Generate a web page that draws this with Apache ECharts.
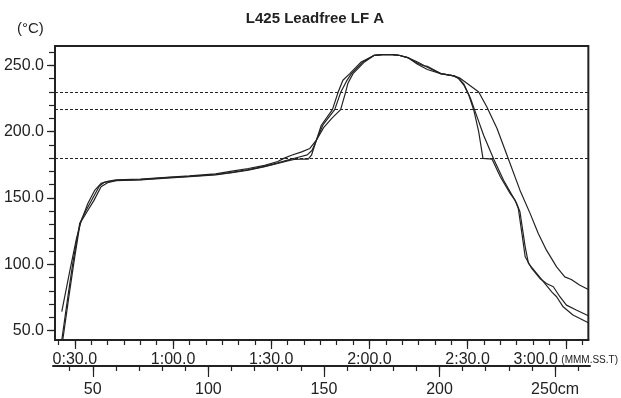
<!DOCTYPE html>
<html>
<head>
<meta charset="utf-8">
<script src="https://cdn.jsdelivr.net/npm/echarts@6/dist/echarts.min.js"></script>
<style>
html, body { margin: 0; padding: 0; background: #fff; }
#chart { width: 621px; height: 398px; }
</style>
</head>
<body>
<div id="chart"></div>
<script>
// profile readings, time in seconds, temperature in degC
const probe1Time = [26.0, 28.5, 30.5, 32.0, 34.0, 36.0, 38.0, 40.0, 42.6, 50, 58, 65, 73, 78, 83, 88, 92, 94, 96.2, 99.3, 101.8, 103.8, 105.3, 108.7, 110.4, 111.9, 114.0, 117.5, 121.5, 124, 127, 129, 131.7, 134.7, 137.7, 141.8, 145.8, 147.5, 149.9, 153.4, 155.9, 159, 162.5, 166, 169.1, 171.6, 174.1, 177.2, 179.7, 181.7, 184.2, 186.9]
const probe1Temp = [64.3, 95.7, 119.5, 133.3, 146, 155.5, 161, 162.6, 163.6, 164.3, 165.6, 166.6, 168.2, 170.2, 172.2, 174.6, 177.5, 180, 182.2, 184.7, 187.3, 193.5, 204.8, 216.6, 229.4, 238.7, 243.7, 252.5, 257.5, 258, 258, 257.5, 255.8, 252.5, 248.5, 243.7, 242, 240.5, 236.2, 229.9, 218.6, 202.3, 179.2, 155.9, 138.4, 123.3, 110.7, 98.1, 90.6, 88.6, 84.4, 81.1]

const probe2Time = [26.0, 28.0, 29.5, 31.5, 33.5, 35.5, 37.5, 39.0, 42.6, 50, 58, 65, 73, 78, 83, 88, 92, 95, 98, 101, 102.5, 103.8, 105.8, 109.4, 111.2, 113.0, 114.5, 118.0, 121.5, 124, 127, 129, 131.7, 134.7, 136.5, 137.7, 141.8, 145.8, 147.3, 148.9, 150.9, 152.9, 154.9, 158, 161, 165, 166, 167.6, 168.6, 171.1, 173.6, 175.7, 177.2, 179.2, 182.2, 186.9]
const probe2Temp = [43, 78, 103, 131, 141, 150, 159, 161.8, 163.2, 163.9, 165.3, 166.3, 167.7, 169.3, 171.3, 173.8, 176.5, 178.5, 180.5, 182.5, 186, 193.5, 205, 216.6, 229.4, 238, 243.7, 252.5, 257.5, 258, 258, 257.5, 255.8, 251.5, 249.6, 249.2, 243.7, 242, 240, 235.7, 224.9, 211.1, 197.3, 179.2, 163.4, 145.9, 139.6, 113.2, 100.7, 93.2, 85.6, 79.3, 75.6, 68, 61.8, 56]

const probe3Time = [26.3, 28.3, 29.8, 31.6, 33.8, 35.8, 38.0, 40.0, 42.6, 50, 58, 65, 73, 78, 83, 88, 92, 95, 97, 99, 101.3, 102.3, 103.8, 106.0, 108.5, 111.2, 112.7, 113.4, 115.0, 118.5, 121.5, 124, 127, 129, 131.7, 134.7, 137.7, 141.8, 145.8, 147.3, 148.9, 150.4, 151.9, 153.4, 154.7, 157.5, 160, 163, 164.5, 165.5, 166.6, 167.6, 169.6, 172.1, 174.1, 176.2, 178.2, 180.2, 183.2, 186.9]
const probe3Temp = [43, 78, 103, 131, 140, 148, 158.5, 161.5, 163, 163.7, 165, 166, 167.4, 169, 171, 173.6, 176, 178, 179, 179.2, 179.2, 182.2, 193.5, 203, 210, 216.6, 229.4, 236.2, 243.7, 252.5, 257.5, 258, 258, 257.5, 255.8, 250.7, 246.8, 243.7, 242, 240, 234.9, 227.4, 216.1, 199.8, 179.8, 179.2, 166, 153.4, 148.4, 142.1, 123.3, 105.7, 96.9, 89.4, 85.6, 83.1, 75.6, 69.3, 65.6, 61.3]

// reference levels (dashed)
const limitLines = [230, 217, 180]

// tick labels
const timeTicks = [30, 60, 90, 120, 150, 180]
const tempTicks = [50, 100, 150, 200, 250]
const distTicks = [50, 100, 150, 200, 250]

const timeMin = 23.93, timeMax = 186.9
const tempMin = 43, tempMax = 264.5
const distMin = 32.8, distMax = 265.1

const timeMinor = []
for (let t = 25; t <= 185; t += 5) timeMinor.push(t)
const tempMinor = []
for (let v = 50; v <= 260; v += 10) tempMinor.push(v)
const distMinor = []
for (let d = 40; d <= 260; d += 10) distMinor.push(d)

const ink = '#222'
const font = "'Liberation Sans', Arial, sans-serif"

function zip (xs, ys) {
  return xs.map((x, i) => [x, ys[i]])
}

function fmtTime (s) {
  const m = Math.floor(s / 60)
  const ss = String(s % 60).padStart(2, '0')
  const txt = m + ':' + ss + '.0'
  if (s === 180) return '{a|' + txt + '} {u|(MMM.SS.T)}'
  return '{a|' + txt + '}'
}

function probeSeries (name, xs, ys, extra) {
  return Object.assign({
    name: name,
    type: 'line',
    xAxisIndex: 0,
    yAxisIndex: 0,
    symbol: 'none',
    showSymbol: false,
    clip: true,
    lineStyle: { color: ink, width: 1.2 },
    data: zip(xs, ys)
  }, extra || {})
}

const chart = echarts.init(document.getElementById('chart'))

const option = {
  animation: false,
  backgroundColor: '#fff',
  textStyle: { fontFamily: font },
  title: {
    text: 'L425 Leadfree LF A',
    left: 310,
    top: 6,
    textAlign: 'center',
    textStyle: { fontSize: 15, fontWeight: 'bold', color: ink, fontFamily: font }
  },
  graphic: [
    {
      type: 'text',
      left: 17,
      top: 21,
      style: { text: '(°C)', fontSize: 15, fill: ink, fontFamily: font }
    }
  ],
  grid: [
    { left: 55, right: 29, top: 46, bottom: 58, show: true, borderColor: ink, borderWidth: 2 },
    { left: 53, right: 31, top: 340, bottom: 27 }
  ],
  xAxis: [
    {
      gridIndex: 0, type: 'value', position: 'bottom', min: timeMin, max: timeMax,
      axisLine: { show: true, lineStyle: { color: ink, width: 2 } },
      axisTick: { show: true, customValues: timeMinor, length: 5, lineStyle: { color: ink, width: 1.2 } },
      axisLabel: { show: false },
      splitLine: { show: false }
    },
    {
      gridIndex: 0, type: 'value', position: 'bottom', min: timeMin, max: timeMax,
      axisLine: { show: false },
      axisTick: { show: true, customValues: timeTicks, length: 9, lineStyle: { color: ink, width: 1.2 } },
      axisLabel: {
        customValues: timeTicks, margin: 12, color: ink, formatter: fmtTime,
        rich: {
          a: { fontSize: 16, color: ink, fontFamily: font },
          u: { fontSize: 10, color: ink, fontFamily: font }
        }
      },
      splitLine: { show: false }
    },
    {
      gridIndex: 1, type: 'value', position: 'bottom', min: distMin, max: distMax,
      axisLine: { show: true, lineStyle: { color: ink, width: 2 } },
      axisTick: { show: true, customValues: distMinor, length: 5, lineStyle: { color: ink, width: 1.2 } },
      axisLabel: { show: false },
      splitLine: { show: false }
    },
    {
      gridIndex: 1, type: 'value', position: 'bottom', min: distMin, max: distMax,
      axisLine: { show: false },
      axisTick: { show: true, customValues: distTicks, length: 11, lineStyle: { color: ink, width: 1.2 } },
      axisLabel: {
        customValues: distTicks, margin: 16, fontSize: 16, color: ink, fontFamily: font,
        formatter: (v) => v === 250 ? '250cm' : String(v)
      },
      splitLine: { show: false }
    }
  ],
  yAxis: [
    {
      gridIndex: 0, type: 'value', position: 'left', min: tempMin, max: tempMax,
      axisLine: { show: true, lineStyle: { color: ink, width: 2 } },
      axisTick: { show: true, customValues: tempMinor, length: 6, lineStyle: { color: ink, width: 1.2 } },
      axisLabel: { show: false },
      splitLine: { show: false }
    },
    {
      gridIndex: 0, type: 'value', position: 'left', min: tempMin, max: tempMax,
      axisLine: { show: false },
      axisTick: { show: true, customValues: tempTicks, length: 8, lineStyle: { color: ink, width: 1.2 } },
      axisLabel: {
        customValues: tempTicks, margin: 11, fontSize: 16, color: ink, fontFamily: font,
        formatter: (v) => v.toFixed(1)
      },
      splitLine: { show: false }
    },
    { gridIndex: 1, type: 'value', show: false }
  ],
  series: [
    probeSeries('TC1', probe1Time, probe1Temp, {
      markLine: {
        silent: true,
        symbol: 'none',
        label: { show: false },
        lineStyle: { color: ink, width: 1, type: [3, 2] },
        data: limitLines.map((v) => ({ yAxis: v }))
      }
    }),
    probeSeries('TC2', probe2Time, probe2Temp),
    probeSeries('TC3', probe3Time, probe3Temp)
  ]
}

chart.setOption(option)
</script>
</body>
</html>
